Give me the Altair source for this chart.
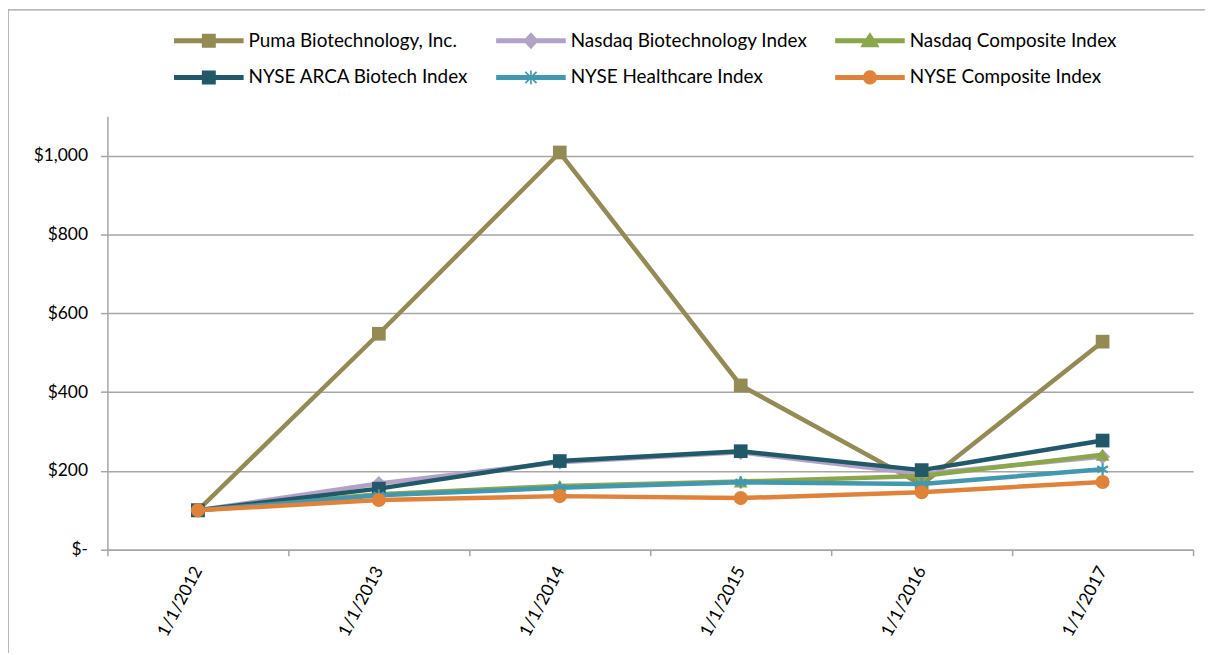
import altair as alt
import pandas as pd

dates = ["1/1/2012", "1/1/2013", "1/1/2014", "1/1/2015", "1/1/2016", "1/1/2017"]
series_names = [
    "Puma Biotechnology, Inc.",
    "Nasdaq Biotechnology Index",
    "Nasdaq Composite Index",
    "NYSE ARCA Biotech Index",
    "NYSE Healthcare Index",
    "NYSE Composite Index",
]
puma = [100, 548, 1008, 417, 165, 528]
nasdaq_bio = [100, 168, 222, 247, 192, 236]
nasdaq_comp = [100, 141, 162, 173, 187, 241]
nyse_arca = [100, 155, 225, 250, 202, 277]
nyse_health = [100, 138, 157, 171, 167, 204]
nyse_comp = [100, 126, 136, 131, 146, 172]
y_ticks = [0, 200, 400, 600, 800, 1000]

colors = ["#948A54", "#B3A2C7", "#8BA64B", "#215968", "#4198AF", "#E0823A"]
ASTERISK = "M0,-1L0,1M-0.87,-0.5L0.87,0.5M-0.87,0.5L0.87,-0.5"
marker_shapes = ["square", "diamond", "triangle-up", "square", ASTERISK, "circle"]
marker_sizes = [190, 230, 190, 190, 150, 200]

legend_paths = [
    "M-3.5,-0.25H-0.7V-0.7H0.7V-0.25H3.5V0.25H0.7V0.7H-0.7V0.25H-3.5Z",
    "M-3.5,-0.25H-0.55L0,-0.85L0.55,-0.25H3.5V0.25H0.55L0,0.85L-0.55,0.25H-3.5Z",
    "M-3.5,-0.25H-0.4L0,-0.85L0.4,-0.25H3.5V0.25H0.75L0.95,0.65H-0.95L-0.75,0.25H-3.5Z",
    "M-3.5,-0.25H-0.7V-0.7H0.7V-0.25H3.5V0.25H0.7V0.7H-0.7V0.25H-3.5Z",
    "M-3.5,-0.25H-0.08V-0.7H0.08V-0.25H3.5V0.25H0.08V0.7H-0.08V0.25H-3.5Z"
    "M-0.62,-0.5L-0.5,-0.62L0.62,0.5L0.5,0.62Z"
    "M0.5,-0.62L0.62,-0.5L-0.5,0.62L-0.62,0.5Z",
    "M-3.5,-0.25H-0.66A0.7,0.7 0 0 1 0.66,-0.25H3.5V0.25H0.66A0.7,0.7 0 0 1 -0.66,0.25H-3.5Z",
]

all_series = [puma, nasdaq_bio, nasdaq_comp, nyse_arca, nyse_health, nyse_comp]
rows = []
for name, vals in zip(series_names, all_series):
    for d, v in zip(dates, vals):
        rows.append({"date": d, "series": name, "value": v})
df = pd.DataFrame(rows)

FONT = "Lato"
AXIS_GRAY = "#a6a6a6"

color_scale = alt.Scale(domain=series_names, range=colors)

x_enc = alt.X(
    "date:O",
    sort=dates,
    bandPosition=0.5,
    scale=alt.Scale(type="band", paddingInner=0, paddingOuter=0),
    axis=alt.Axis(
        title=None,
        tickBand="extent",
        grid=False,
        labelAngle=-62,
        labelAlign="right",
        labelBaseline="middle",
        labelFontSize=17.5,
        labelFont=FONT,
        labelColor="#000000",
        labelPadding=12,
        domainColor=AXIS_GRAY,
        domainWidth=1.5,
        tickColor=AXIS_GRAY,
        tickWidth=1.5,
        tickSize=6,
    ),
)
y_enc = alt.Y(
    "value:Q",
    scale=alt.Scale(domain=[0, 1100], nice=False, zero=True),
    axis=alt.Axis(
        title=None,
        values=y_ticks,
        labelExpr="datum.value == 0 ? '$-' : '$' + format(datum.value, ',')",
        labelFontSize=17.5,
        labelFont=FONT,
        labelColor="#000000",
        labelPadding=13,
        gridColor=AXIS_GRAY,
        gridWidth=1.5,
        domainColor=AXIS_GRAY,
        domainWidth=1.5,
        tickColor=AXIS_GRAY,
        tickWidth=1.5,
        tickSize=7,
    ),
)

frame = alt.Chart(pd.DataFrame({"a": [0]})).mark_rect(
    fillOpacity=0, stroke="#a0a0a0", strokeWidth=1.5
).encode(
    x=alt.value(-100), x2=alt.value(1300), y=alt.value(-107), y2=alt.value(700)
)

layers = [frame]
for i, name in enumerate(series_names):
    sub = alt.Chart(df).transform_filter(alt.datum.series == name)
    line = sub.mark_line(strokeWidth=4.5).encode(
        x=x_enc, y=y_enc,
        color=alt.Color("series:N", scale=color_scale, legend=None),
    )
    if marker_shapes[i] == ASTERISK:
        pts = sub.mark_point(shape=ASTERISK, filled=False, strokeWidth=2.2,
                             size=marker_sizes[i], opacity=1)
    else:
        pts = sub.mark_point(shape=marker_shapes[i], filled=True,
                             size=marker_sizes[i], opacity=1)
    pts = pts.encode(
        x=x_enc, y=y_enc,
        color=alt.Color("series:N", scale=color_scale, legend=None),
    )
    layers += [line, pts]

legend_def = alt.Legend(
    title=None,
    orient="none",
    legendX=92,
    legendY=-86,
    columns=3,
    direction="horizontal",
    labelFont=FONT,
    labelFontSize=19,
    labelColor="#000000",
    labelLimit=400,
    symbolSize=400,
    symbolStrokeWidth=0,
    labelOffset=30,
    columnPadding=27,
    rowPadding=17,
    padding=0,
)
legend_layer = alt.Chart(df).transform_calculate(
    entry="datum.series"
).transform_filter("datum.value < 0").mark_point(
    filled=True, opacity=1
).encode(
    x=x_enc, y=y_enc,
    color=alt.Color("entry:N", scale=alt.Scale(domain=series_names, range=colors),
                    legend=legend_def),
    shape=alt.Shape("entry:N", scale=alt.Scale(domain=series_names, range=legend_paths),
                    legend=legend_def),
)
layers.append(legend_layer)

chart = alt.layer(*layers).resolve_scale(
    color="independent", shape="independent"
).resolve_legend(
    color="independent", shape="independent"
).properties(
    width=1092,
    height=436,
    autosize=alt.AutoSizeParams(type="none"),
    padding={"left": 100, "top": 107, "right": 12, "bottom": 102},
    background="white",
).configure_view(strokeWidth=0)

chart.save("out.html", embed_options={"renderer": "svg", "actions": False})
